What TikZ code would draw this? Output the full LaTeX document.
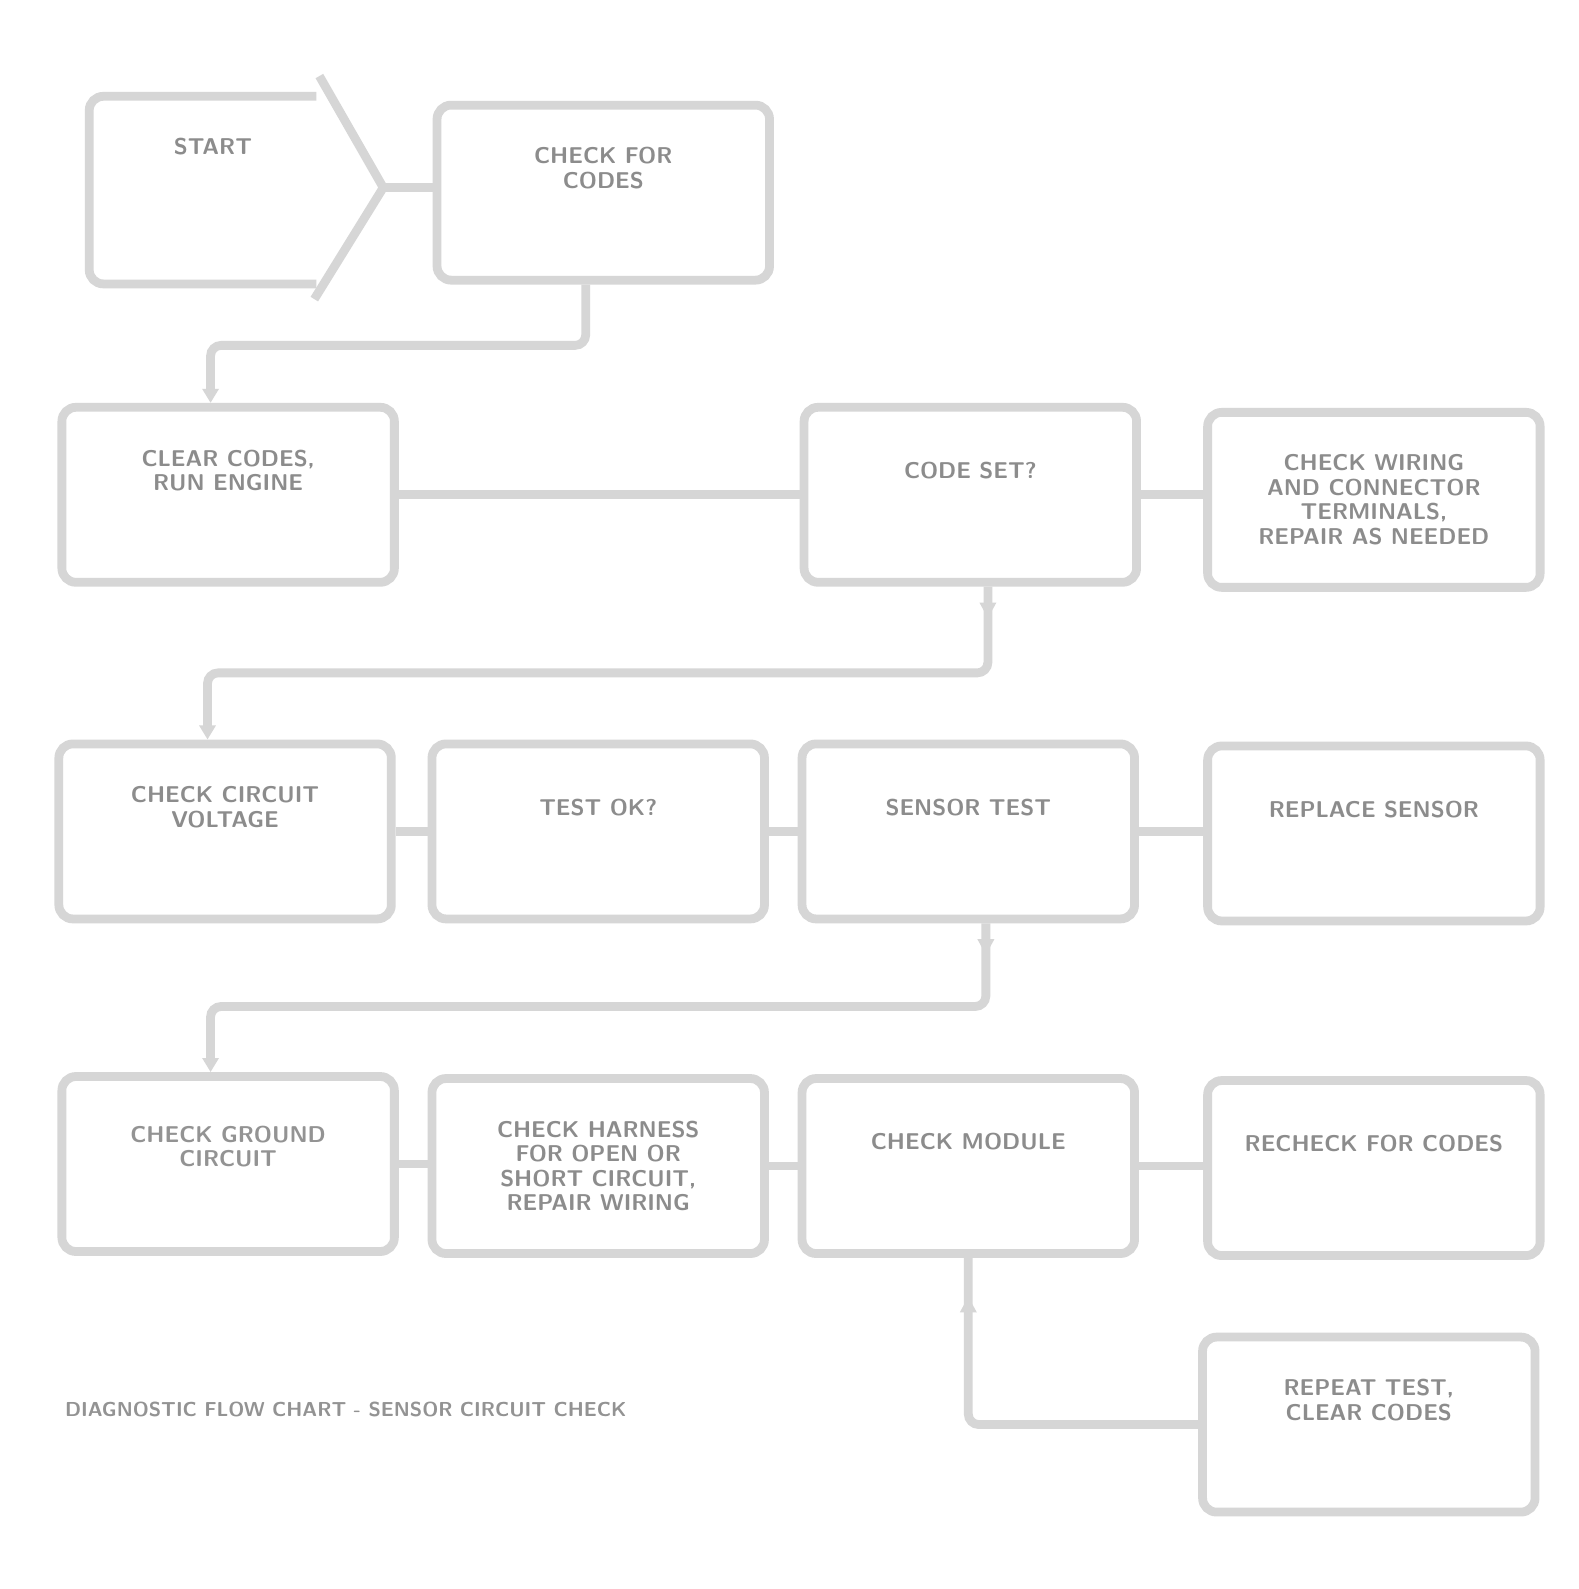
\documentclass[tikz,border=0pt]{standalone}
\usepackage{tikz}
\usetikzlibrary{arrows.meta,decorations.markings}
\definecolor{boxline}{RGB}{214,214,214}
\definecolor{boxtext}{RGB}{140,140,140}

\begin{document}
\begin{tikzpicture}[x=0.02028cm,y=-0.02028cm,
    chartbox/.style={draw=boxline,line width=5pt,rounded corners=8pt,
        minimum width=6.65cm,minimum height=3.5cm,align=center,
        text=boxtext,font=\sffamily\bfseries\fontsize{13}{14}\selectfont},
    link/.style={draw=boxline,line width=5pt},
    tipmark/.style={decoration={markings,mark=at position #1 with {\arrow{Triangle[length=9pt,width=9pt]}}},postaction=decorate}]
\fill[white] (0cm,0cm) rectangle (31.58cm,-31.78cm);

\draw[link,rounded corners=8pt] (312,95) -- (88,95) -- (88,280) -- (312,280);
\draw[link,line join=round] (315,75) -- (378,185) -- (310,295);
\coordinate (tip) at (378,185);
\node[text=boxtext,font=\sffamily\bfseries\fontsize{13}{14}\selectfont] (start) at (210,145) {START};

\node[chartbox,text=gray!90] (check) at (595,190) {CHECK FOR\\CODES\\[14pt]};
\node[chartbox] (clear) at (225,488) {CLEAR CODES,\\RUN ENGINE\\[14pt]};
\node[chartbox] (codeset) at (957,488) {CODE SET?\\[14pt]};
\node[chartbox,text=gray!90] (wiring) at (1355,493) {CHECK WIRING\\AND CONNECTOR\\TERMINALS,\\REPAIR AS NEEDED};
\node[chartbox] (volts) at (222,820) {CHECK CIRCUIT\\VOLTAGE\\[14pt]};
\node[chartbox] (testok) at (590,820) {TEST OK?\\[14pt]};
\node[chartbox] (sensor) at (955,820) {SENSOR TEST\\[14pt]};
\node[chartbox] (replace) at (1355,822) {REPLACE SENSOR\\[14pt]};
\node[chartbox,text=gray!85] (ground) at (225,1148) {CHECK GROUND\\CIRCUIT\\[6pt]};
\node[chartbox,text=gray!90] (harness) at (590,1150) {CHECK HARNESS\\FOR OPEN OR\\SHORT CIRCUIT,\\REPAIR WIRING};
\node[chartbox] (module) at (955,1150) {CHECK MODULE\\[14pt]};
\node[chartbox] (recheck) at (1355,1152) {RECHECK FOR CODES\\[14pt]};
\node[chartbox] (repeat) at (1350,1405) {REPEAT TEST,\\CLEAR CODES\\[14pt]};

\draw[link] (tip) -- (tip -| check.west);
\draw[link,rounded corners=6pt,-{Triangle[length=8pt,width=9pt]}] ([xshift=-10]check.south) -- ++(0,60) -| ([xshift=-10]clear.north);
\draw[link] (clear.east) -- (codeset.west);
\draw[link] (codeset.east) -- (codeset.east -| wiring.west);
\draw[link,rounded corners=6pt,tipmark=18pt,-{Triangle[length=8pt,width=9pt]}] ([xshift=10]codeset.south) -- ++(0,85) -| ([xshift=-10]volts.north);
\draw[link] (volts.east) -- (testok.west);
\draw[link] (testok.east) -- (sensor.west);
\draw[link] (sensor.east) -- (sensor.east -| replace.west);
\draw[link,rounded corners=6pt,tipmark=18pt,-{Triangle[length=8pt,width=9pt]}] ([xshift=10]sensor.south) -- ++(0,82) -| ([xshift=-10]ground.north);
\draw[link] (ground.east) -- (ground.east -| harness.west);
\draw[link] (harness.east) -- (module.west);
\draw[link] (module.east) -- (module.east -| recheck.west);
\draw[link,rounded corners=6pt,tipmark=-22pt] (repeat.west) -| (module.south);

\node[anchor=west,text=gray!85,font=\sffamily\bfseries\fontsize{11.5}{12}\selectfont] (caption) at (58,1390) {DIAGNOSTIC FLOW CHART - SENSOR CIRCUIT CHECK};

\pgfresetboundingbox
\useasboundingbox (0cm,0cm) rectangle (31.58cm,-31.78cm);
\end{tikzpicture}
\end{document}
